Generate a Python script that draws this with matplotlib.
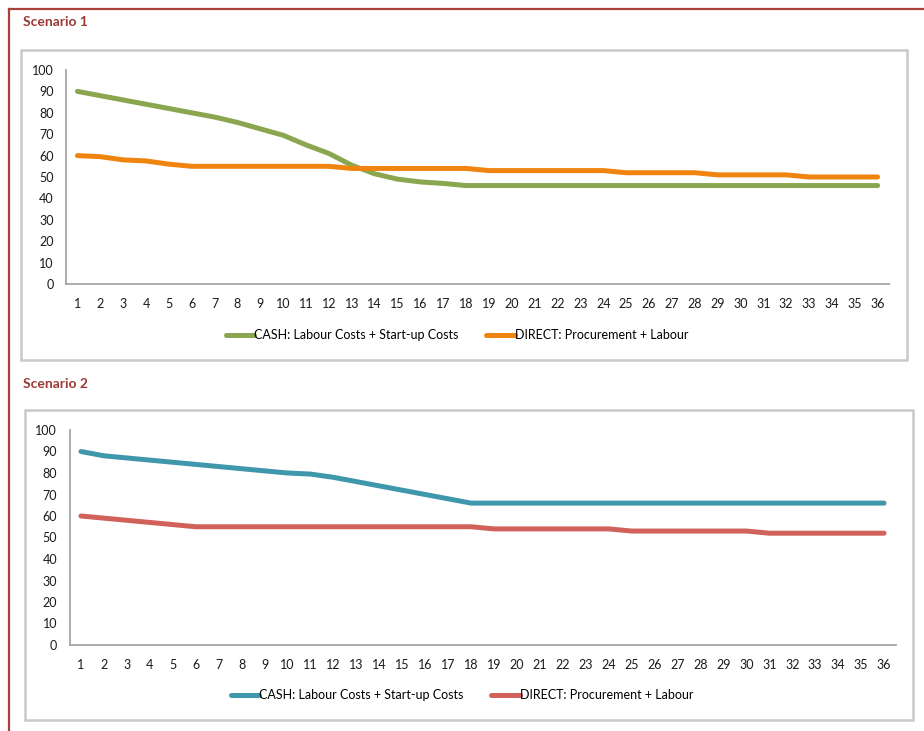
import matplotlib.pyplot as plt
from matplotlib.patches import Rectangle
from matplotlib.lines import Line2D

plt.rcParams["font.family"] = ["Lato", "DejaVu Sans"]

months = list(range(1, 37))

# Scenario 1
s1_cash = [90, 88, 86, 84, 82, 80, 78, 75.5, 72.5, 69.5, 65, 61, 55.5, 51.5, 49, 47.7, 47] + [46] * 19
s1_direct = [60, 59.5, 58, 57.5, 56, 55] + [55] * 6 + [54] * 6 + [53] * 6 + [52] * 4 + [51] * 4 + [50] * 4

# Scenario 2
s2_cash = [90, 88, 87, 86, 85, 84, 83, 82, 81, 80, 79.5, 78, 76, 74, 72, 70, 68] + [66] * 19
s2_direct = [60, 59, 58, 57, 56] + [55] * 13 + [54] * 6 + [53] * 6 + [52] * 6

cash_label = "CASH: Labour Costs + Start-up Costs"
direct_label = "DIRECT: Procurement + Labour"
y_ticks = list(range(0, 101, 10))

W, H = 924, 731
fig = plt.figure(figsize=(W / 100, H / 100), dpi=100)


def fx(px):
    return px / W


def fy(py):
    return 1 - py / H


# outer frame (top and left edges only)
frame_col = "#a8403c"
fig.add_artist(Line2D([fx(9), 1.0], [fy(9), fy(9)], color=frame_col, lw=1.6))
fig.add_artist(Line2D([fx(9), fx(9)], [fy(9), 0.0], color=frame_col, lw=1.6))


def chart_box(x0, y0, x1, y1):
    fig.add_artist(Rectangle((fx(x0), fy(y1)), fx(x1 - x0), (y1 - y0) / H,
                             fill=False, edgecolor="#c9c9c9", lw=1.8))


def draw_panel(title, title_y, box, ax_px, cash, direct, colors, leg_x, leg_y):
    fig.text(fx(23), fy(title_y), title, fontsize=10, fontweight="bold",
             color="#9a3a36", va="center", ha="left")
    chart_box(*box)
    left, top, right, bottom = ax_px
    ax = fig.add_axes([fx(left), fy(bottom), fx(right - left), (bottom - top) / H])
    ax.plot(months, cash, color=colors[0], lw=3.6, solid_capstyle="round",
            solid_joinstyle="round", label=cash_label)
    ax.plot(months, direct, color=colors[1], lw=3.6, solid_capstyle="round",
            solid_joinstyle="round", label=direct_label)
    ax.set_xlim(0.5, 36.5)
    ax.set_ylim(0, 100)
    ax.set_xticks(months)
    ax.set_yticks(y_ticks)
    ax.tick_params(length=0, labelsize=9, colors="#1a1a1a")
    ax.tick_params(axis="y", pad=9)
    ax.tick_params(axis="x", pad=10)
    for s in ("top", "right"):
        ax.spines[s].set_visible(False)
    for s in ("left", "bottom"):
        ax.spines[s].set_color("#a6a6a6")
        ax.spines[s].set_linewidth(1.3)
    ax.patch.set_alpha(0)
    ax.legend(loc="center", bbox_to_anchor=(fx(leg_x), fy(leg_y)),
              bbox_transform=fig.transFigure, ncol=2, frameon=False,
              fontsize=9, handlelength=2.3, handletextpad=0.0,
              columnspacing=2.2)
    return ax


draw_panel("Scenario 1", 22, (21, 50, 907, 360), (66, 70, 889, 284),
           s1_cash, s1_direct, ("#8aa64e", "#ef840f"), 457, 335)
draw_panel("Scenario 2", 384, (25, 410, 913, 720), (69.5, 430, 895.5, 645),
           s2_cash, s2_direct, ("#3f97ac", "#d0625b"), 462, 695)

fig.savefig("out.png", dpi=100, facecolor="white")
